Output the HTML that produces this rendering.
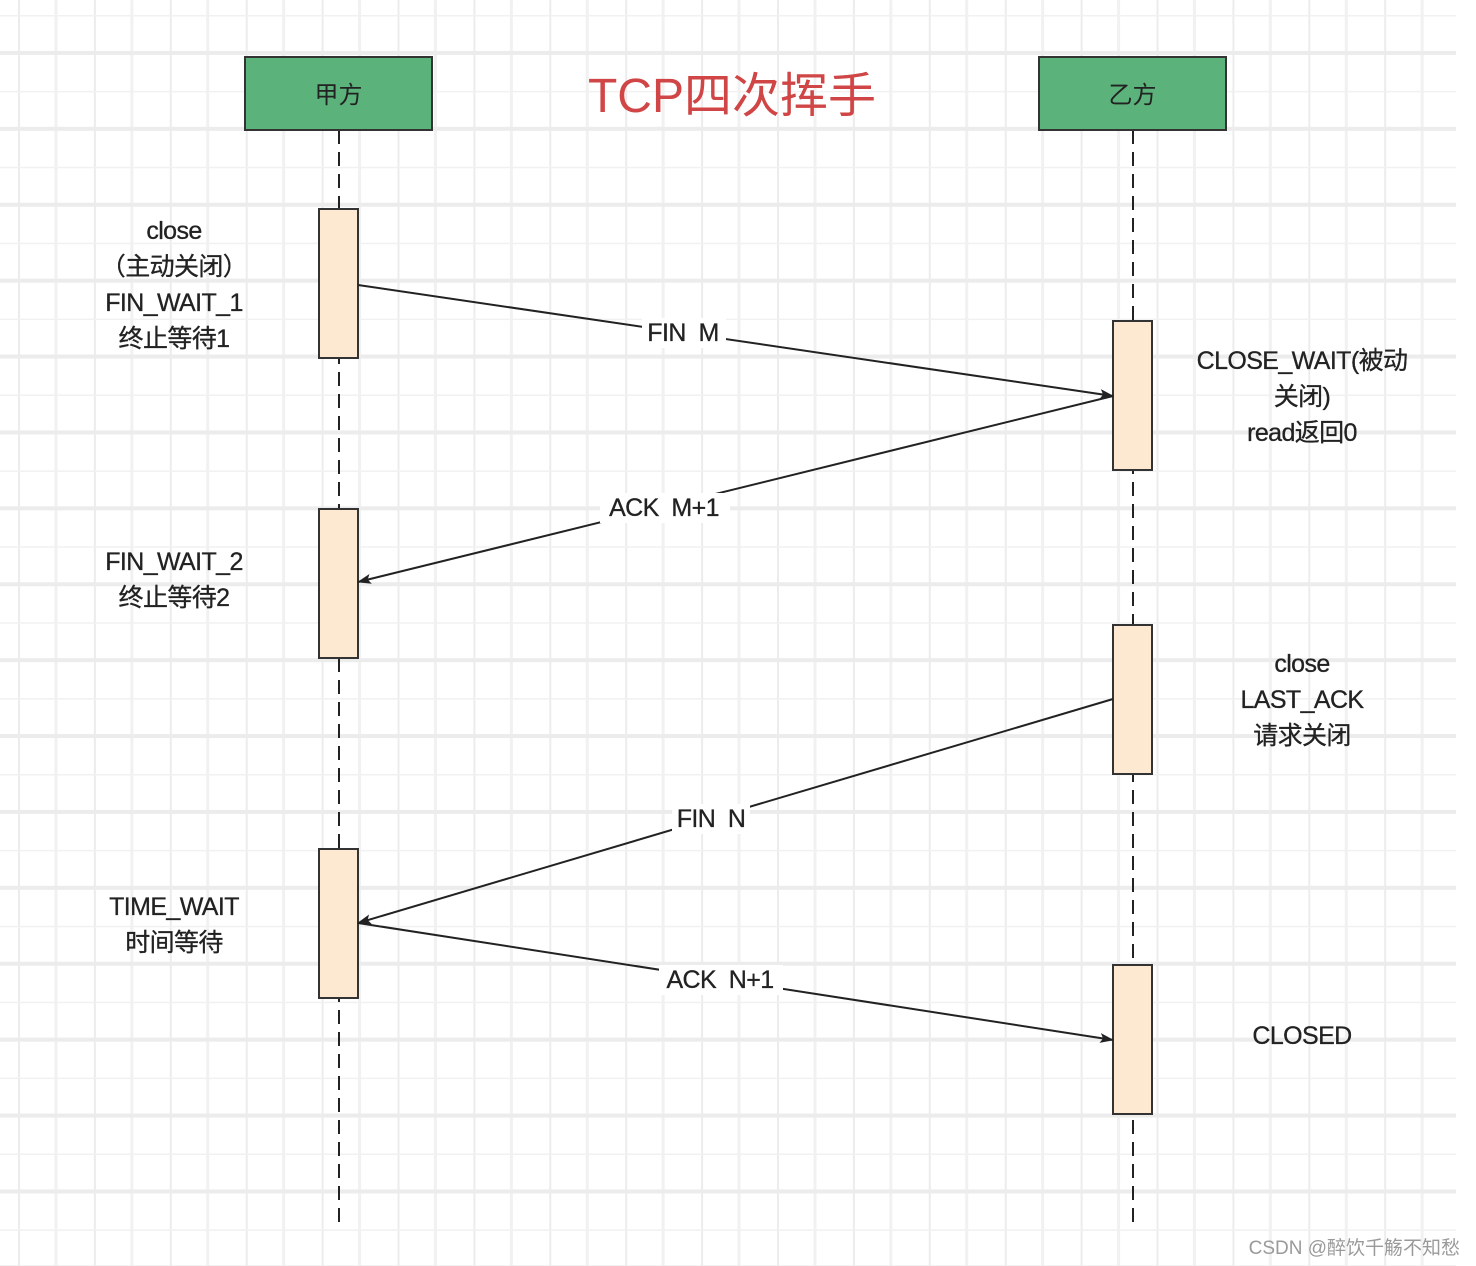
<!DOCTYPE html>
<html><head><meta charset="utf-8"><style>
html,body{margin:0;padding:0;background:#fff;}
svg{display:block;}
text{font-family:"Liberation Sans","Noto Sans CJK SC",sans-serif;fill:#222;white-space:pre;}
</style></head><body>
<svg width="1476" height="1266" viewBox="0 0 1476 1266" xmlns="http://www.w3.org/2000/svg">
<defs>
<pattern id="g" x="18" y="15" width="75.9" height="75.9" patternUnits="userSpaceOnUse">
<line x1="0" y1="0" x2="0" y2="75.9" stroke="#ececec" stroke-width="4"/>
<line x1="37.95" y1="0" x2="37.95" y2="75.9" stroke="#f1f1f1" stroke-width="3"/>
<line x1="0" y1="38" x2="75.9" y2="38" stroke="#ececec" stroke-width="4"/>
<line x1="0" y1="0" x2="75.9" y2="0" stroke="#f1f1f1" stroke-width="3"/>
</pattern>
<marker id="a" markerWidth="14" markerHeight="10" refX="13" refY="5" orient="auto" markerUnits="userSpaceOnUse">
<path d="M0,0 L14,5 L0,10 L3,5 Z" fill="#222"/>
</marker>
</defs>
<rect x="0" y="0" width="1456" height="1266" fill="url(#g)"/>
<line x1="339" y1="130" x2="339" y2="1228" stroke="#222" stroke-width="2" stroke-dasharray="14,8"/>
<line x1="1133" y1="130" x2="1133" y2="1228" stroke="#222" stroke-width="2" stroke-dasharray="14,8"/>
<rect x="245" y="57" width="187" height="73" fill="#5bb27a" stroke="#333" stroke-width="2"/>
<text x="338.5" y="103" text-anchor="middle" font-size="24">甲方</text>
<rect x="1039" y="57" width="187" height="73" fill="#5bb27a" stroke="#333" stroke-width="2"/>
<text x="1132.5" y="103" text-anchor="middle" font-size="24">乙方</text>
<text x="732" y="112" text-anchor="middle" font-size="48" style="fill:#d04545">TCP四次挥手</text>
<g fill="#fde9d1" stroke="#333" stroke-width="2">
<rect x="319" y="209" width="39" height="149"/>
<rect x="319" y="509" width="39" height="149"/>
<rect x="319" y="849" width="39" height="149"/>
<rect x="1113" y="321" width="39" height="149"/>
<rect x="1113" y="625" width="39" height="149"/>
<rect x="1113" y="965" width="39" height="149"/>
</g>
<g stroke="#222" stroke-width="2" fill="none">
<line x1="358" y1="285" x2="1113" y2="396" marker-end="url(#a)"/>
<line x1="1113" y1="396" x2="358" y2="582" marker-end="url(#a)"/>
<line x1="1113" y1="699" x2="358" y2="923" marker-end="url(#a)"/>
<line x1="358" y1="923" x2="1113" y2="1040" marker-end="url(#a)"/>
</g>
<g fill="#fff">
<rect x="642" y="318" width="84" height="30"/>
<rect x="600" y="493" width="130" height="30"/>
<rect x="672" y="804" width="78" height="30"/>
<rect x="659" y="965" width="124" height="30"/>
</g>
<g font-size="25" text-anchor="middle" letter-spacing="-0.6" stroke="#222" stroke-width="0.3">
<text x="683" y="341">FIN  M</text>
<text x="664" y="516">ACK  M+1</text>
<text x="711" y="827">FIN  N</text>
<text x="720" y="988">ACK  N+1</text>
<text x="174" y="239">close</text>
<text x="174" y="275">（主动关闭）</text>
<text x="174" y="311">FIN_WAIT_1</text>
<text x="174" y="347">终止等待1</text>
<text x="174" y="570">FIN_WAIT_2</text>
<text x="174" y="606">终止等待2</text>
<text x="174" y="915">TIME_WAIT</text>
<text x="174" y="951">时间等待</text>
<text x="1302" y="369">CLOSE_WAIT(被动</text>
<text x="1302" y="405">关闭)</text>
<text x="1302" y="441">read返回0</text>
<text x="1302" y="672">close</text>
<text x="1302" y="708">LAST_ACK</text>
<text x="1302" y="744">请求关闭</text>
<text x="1302" y="1044">CLOSED</text>
</g>
<text x="1460" y="1254" text-anchor="end" font-size="19" style="fill:#9a9a9a">CSDN @醉饮千觞不知愁</text>
</svg>
</body></html>
